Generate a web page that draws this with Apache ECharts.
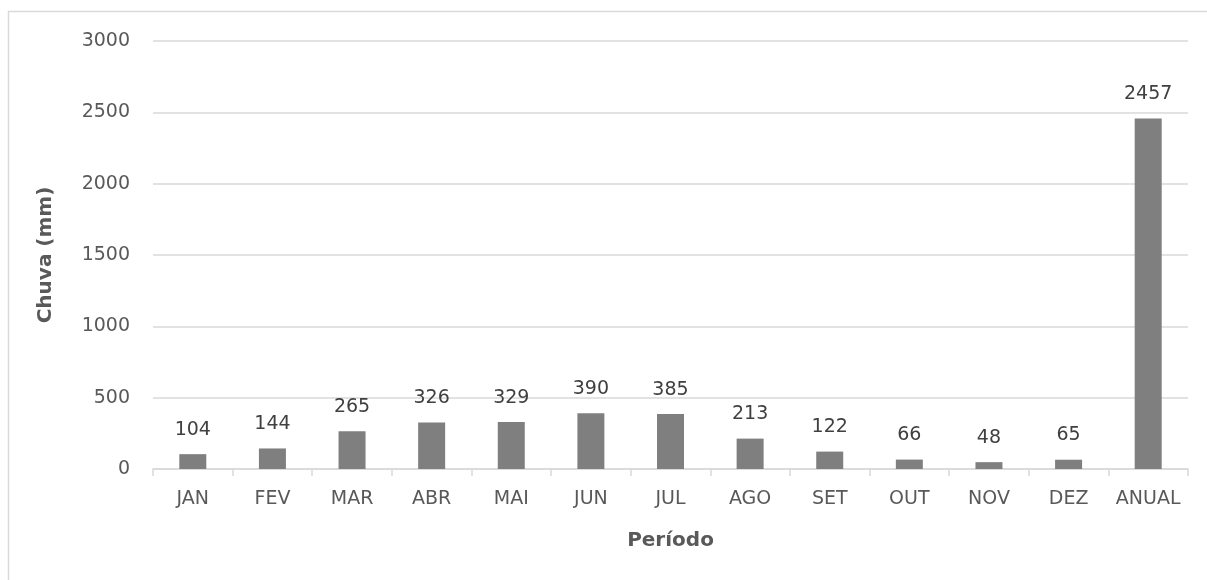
<!DOCTYPE html>
<html>
<head>
<meta charset="utf-8">
<script src="https://cdn.jsdelivr.net/npm/echarts@6/dist/echarts.min.js"></script>
<style>
  html, body { margin: 0; padding: 0; background: #ffffff; overflow: hidden; }
  #chart { width: 1207px; height: 580px; }
</style>
</head>
<body>
<div id="chart"></div>
<script>
// Monthly and annual rainfall (mm)
const periods = ['JAN', 'FEV', 'MAR', 'ABR', 'MAI', 'JUN', 'JUL', 'AGO', 'SET', 'OUT', 'NOV', 'DEZ', 'ANUAL'];
const rainfall = [104, 144, 265, 326, 329, 390, 385, 213, 122, 66, 48, 65, 2457];
const yTicks = [0, 500, 1000, 1500, 2000, 2500, 3000];

const FONT = 'DejaVu Sans';
const chart = echarts.init(document.getElementById('chart'), null, { renderer: 'canvas' });

chart.setOption({
  backgroundColor: '#ffffff',
  animation: false,
  textStyle: { fontFamily: FONT },
  graphic: [{
    // chart-area frame (left and top edges are visible)
    type: 'polyline',
    shape: { points: [[8.5, 700], [8.5, 11.5], [1400, 11.5]] },
    style: { fill: 'none', stroke: '#d9d9d9', lineWidth: 1.5 },
    silent: true
  }],
  grid: { left: 153, right: 19, top: 41, bottom: 111, containLabel: false },
  xAxis: {
    type: 'category',
    data: periods,
    name: 'Período',
    nameLocation: 'middle',
    nameGap: 62,
    nameTextStyle: { fontFamily: FONT, fontSize: 20, fontWeight: 'bold', color: '#595959' },
    axisLine: { show: true, lineStyle: { color: '#d9d9d9', width: 1.5 } },
    axisTick: { show: true, alignWithLabel: false, length: 7, lineStyle: { color: '#d9d9d9', width: 1.5 } },
    axisLabel: { fontFamily: FONT, fontSize: 19, color: '#595959', margin: 21, interval: 0 }
  },
  yAxis: {
    type: 'value',
    min: yTicks[0],
    max: yTicks[yTicks.length - 1],
    interval: yTicks[1] - yTicks[0],
    name: 'Chuva (mm)',
    nameLocation: 'middle',
    nameGap: 97,
    nameRotate: 90,
    nameTextStyle: { fontFamily: FONT, fontSize: 20, fontWeight: 'bold', color: '#595959' },
    axisLine: { show: false },
    axisTick: { show: false },
    axisLabel: { fontFamily: FONT, fontSize: 19, color: '#595959', margin: 23, formatter: v => String(v) },
    splitLine: { show: true, lineStyle: { color: '#d9d9d9', width: 1.5 } }
  },
  series: [{
    type: 'bar',
    data: rainfall,
    barWidth: 27,
    itemStyle: { color: '#7f7f7f' },
    label: {
      show: true,
      position: 'top',
      distance: 15,
      fontFamily: FONT,
      fontSize: 19,
      color: '#404040'
    }
  }]
});
</script>
</body>
</html>
